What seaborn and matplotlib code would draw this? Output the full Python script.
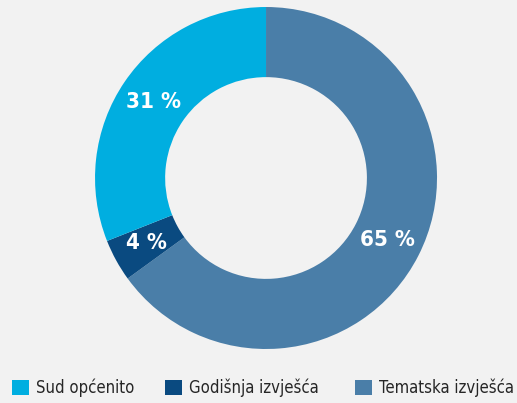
import matplotlib
matplotlib.use("Agg")
import matplotlib.pyplot as plt
import seaborn as sns
from matplotlib.patches import Patch

sns.set_style("white")
plt.rcParams['font.family'] = ['DejaVu Sans', 'Liberation Sans']
plt.rcParams['font.stretch'] = 'condensed'

CATEGORIES = ["Tematska izvješća", "Godišnja izvješća", "Sud općenito"]
SHARES = [65, 4, 31]
COLORS = ["#4a7ea8", "#0a4a80", "#00aee0"]
LEGEND_ORDER = ["Sud općenito", "Godišnja izvješća", "Tematska izvješća"]
LEGEND_X = [0.0232, 0.319, 0.6867]
BG = "#f2f2f2"


def main():
  fig = plt.figure(figsize=(5.17, 4.03), dpi=100, facecolor=BG)
  ax = fig.add_axes([0.1838, 0.134, 0.6615, 0.8486])
  ax.set_facecolor(BG)

  ax.pie(SHARES, colors=COLORS, startangle=90, counterclock=False,
         radius=1.0, wedgeprops=dict(width=0.41, linewidth=0),
         autopct=lambda p: "{:.0f} %".format(p), pctdistance=0.795,
         textprops=dict(color="white", fontsize=16, fontweight="bold"))
  ax.set_xlim(-1, 1)
  ax.set_ylim(-1, 1)
  ax.set_aspect("equal")
  ax.axis("off")

  # one legend per entry so the spacing matches the original
  for name, x in zip(LEGEND_ORDER, LEGEND_X):
    h = Patch(facecolor=COLORS[CATEGORIES.index(name)], edgecolor="none")
    fig.legend([h], [name], loc="center left", bbox_to_anchor=(x, 0.037),
               frameon=False, fontsize=12, handlelength=1.0, handleheight=1.0,
               handletextpad=0.45, borderaxespad=0, borderpad=0)

  fig.savefig("out.png", dpi=100, facecolor=BG)


if __name__ == "__main__":
  main()
